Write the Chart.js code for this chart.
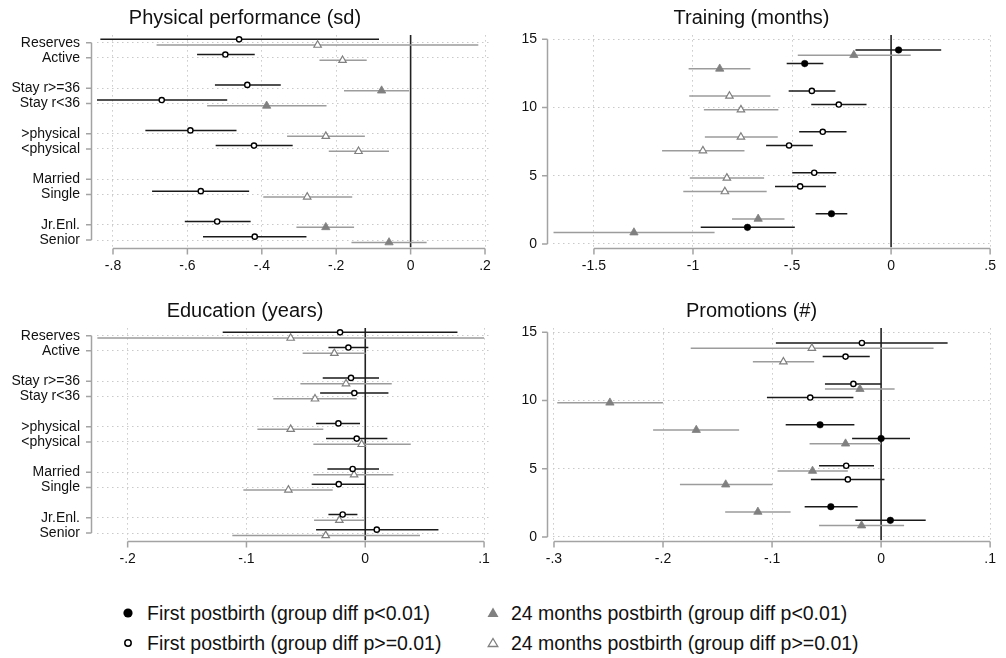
<!DOCTYPE html>
<html><head><meta charset="utf-8">
<script src="https://cdn.jsdelivr.net/npm/chart.js@4.4.1/dist/chart.umd.min.js"></script>
<style>
html,body{margin:0;padding:0;background:#fff;width:1006px;height:658px;overflow:hidden;font-family:"Liberation Sans",Arial,sans-serif;}
canvas{position:absolute;}
.lg{position:absolute;font-size:19.5px;line-height:22px;height:22px;color:#111;white-space:nowrap;}
.mk{position:absolute;}
</style></head><body>
<canvas id="c1" style="left:0;top:0;width:503px;height:285px" width="503" height="285"></canvas>
<canvas id="c2" style="left:503px;top:0;width:503px;height:285px" width="503" height="285"></canvas>
<canvas id="c3" style="left:0;top:293px;width:503px;height:285px" width="503" height="285"></canvas>
<canvas id="c4" style="left:503px;top:293px;width:503px;height:285px" width="503" height="285"></canvas>

<svg class="mk" style="left:122px;top:607px" width="12" height="12"><circle cx="6" cy="6" r="4.6" fill="#000"/></svg>
<div class="lg" style="left:147px;top:602px">First postbirth (group diff p&lt;0.01)</div>
<svg class="mk" style="left:122px;top:637px" width="12" height="12"><circle cx="6" cy="6" r="3.2" fill="#fff" stroke="#000" stroke-width="1.5"/></svg>
<div class="lg" style="left:147px;top:632px">First postbirth (group diff p&gt;=0.01)</div>
<svg class="mk" style="left:486px;top:606px" width="14" height="13"><polygon points="7,1.5 12.5,11 1.5,11" fill="#808080"/></svg>
<div class="lg" style="left:511px;top:602px">24 months postbirth (group diff p&lt;0.01)</div>
<svg class="mk" style="left:486px;top:636px" width="14" height="13"><polygon points="7,2.5 11.8,10.5 2.2,10.5" fill="#fff" stroke="#808080" stroke-width="1.3"/></svg>
<div class="lg" style="left:511px;top:632px">24 months postbirth (group diff p&gt;=0.01)</div>

<script>
// ---------- shared data ----------
const categories = ['Reserves','Active','Stay r>=36','Stay r<36','>physical','<physical','Married','Single','Jr.Enl.','Senior'];
const categoryPos = [14,13,11,10,8,7,5,4,2,1];
const numYTicks = [0,5,10,15];
const numYTickLabels = ['0','5','10','15'];

// ---------- Physical performance (sd) ----------
const physXTicks = [-0.8,-0.6,-0.4,-0.2,0,0.2];
const physXTickLabels = ['-.8','-.6','-.4','-.2','0','.2'];
const physFirstEst = [-0.461,-0.498,-0.439,-0.669,-0.592,-0.421,null,-0.564,-0.520,-0.419];
const physFirstLo  = [-0.834,-0.574,-0.526,-0.843,-0.713,-0.524,null,-0.695,-0.607,-0.558];
const physFirstHi  = [-0.085,-0.419,-0.349,-0.493,-0.468,-0.317,null,-0.434,-0.430,-0.280];
const physFirstSig = [false,false,false,false,false,false,false,false,false,false];
const physLateEst  = [-0.250,-0.183,-0.078,-0.387,-0.228,-0.140,null,-0.278,-0.228,-0.058];
const physLateLo   = [-0.683,-0.245,-0.179,-0.547,-0.332,-0.220,null,-0.396,-0.307,-0.159];
const physLateHi   = [0.182,-0.118,-0.004,-0.226,-0.123,-0.058,null,-0.157,-0.152,0.043];
const physLateSig  = [false,false,true,true,false,false,false,false,true,true];

// ---------- Training (months) ----------
const trainXTicks = [-1.5,-1,-0.5,0,0.5];
const trainXTickLabels = ['-1.5','-1','-.5','0','.5'];
const trainFirstEst = [0.038,-0.436,-0.400,-0.264,-0.345,-0.515,-0.388,-0.459,-0.301,-0.725];
const trainFirstLo  = [-0.180,-0.527,-0.517,-0.403,-0.464,-0.631,-0.499,-0.586,-0.381,-0.961];
const trainFirstHi  = [0.253,-0.342,-0.281,-0.124,-0.225,-0.395,-0.277,-0.329,-0.221,-0.486];
const trainFirstSig = [true,true,false,false,false,false,false,false,true,true];
const trainLateEst  = [-0.188,-0.865,-0.816,-0.758,-0.758,-0.950,-0.829,-0.839,-0.671,-1.298];
const trainLateLo   = [-0.471,-1.022,-1.019,-0.945,-0.940,-1.156,-1.016,-1.049,-0.803,-1.704];
const trainLateHi   = [0.099,-0.710,-0.609,-0.569,-0.572,-0.740,-0.641,-0.628,-0.538,-0.891];
const trainLateSig  = [true,true,false,false,false,false,false,false,true,true];

// ---------- Education (years) ----------
const eduXTicks = [-0.2,-0.1,0,0.1];
const eduXTickLabels = ['-.2','-.1','0','.1'];
const eduFirstEst = [-0.0212,-0.0142,-0.0120,-0.0092,-0.0226,-0.0072,-0.0106,-0.0223,-0.0190,0.0097];
const eduFirstLo  = [-0.120,-0.031,-0.0358,-0.038,-0.0414,-0.033,-0.0319,-0.0451,-0.031,-0.0414];
const eduFirstHi  = [0.0776,0.0026,0.0116,0.0195,-0.0044,0.0186,0.0116,0.0004,-0.0066,0.0616];
const eduFirstSig = [false,false,false,false,false,false,false,false,false,false];
const eduLateEst  = [-0.0628,-0.026,-0.0162,-0.0423,-0.0628,-0.0030,-0.0094,-0.0647,-0.0218,-0.0333];
const eduLateLo   = [-0.2255,-0.0527,-0.0546,-0.0774,-0.0908,-0.0437,-0.0437,-0.1026,-0.0431,-0.1119];
const eduLateHi   = [0.100,0.0004,0.0223,-0.0072,-0.0353,0.0383,0.0237,-0.0274,-0.001,0.0461];
const eduLateSig  = [false,false,false,false,false,false,false,false,false,false];

// ---------- Promotions (#) ----------
const promXTicks = [-0.3,-0.2,-0.1,0,0.1];
const promXTickLabels = ['-.3','-.2','-.1','0','.1'];
const promFirstEst = [-0.0176,-0.0326,-0.0254,-0.065,-0.056,0.0,-0.032,-0.0305,-0.0461,0.0085];
const promFirstLo  = [-0.0965,-0.0536,-0.0515,-0.1047,-0.0875,-0.0266,-0.0569,-0.0644,-0.0701,-0.0236];
const promFirstHi  = [0.061,-0.0104,0.0,-0.0254,-0.0245,0.0265,-0.0065,0.0031,-0.0215,0.0409];
const promFirstSig = [false,false,false,false,true,true,false,false,true,true];
const promLateEst  = [-0.0635,-0.0896,-0.0194,-0.2487,-0.1695,-0.0326,-0.0629,-0.1425,-0.113,-0.0179];
const promLateLo   = [-0.1746,-0.1176,-0.0515,-0.297,-0.2091,-0.0656,-0.095,-0.1845,-0.143,-0.0569];
const promLateHi   = [0.0481,-0.0614,0.0124,-0.2001,-0.1302,0.0,-0.0305,-0.0996,-0.083,0.0211];
const promLateSig  = [false,false,true,true,true,true,true,true,true,true];

// ---------- rendering ----------
const FONT = '"Liberation Sans", Arial, sans-serif';
Chart.defaults.font.family = FONT;
const FIRST_OFF = 0.22, LATE_OFF = -0.16;
const GRID = '#c9c9c9';

const axesPlugin = {
  id: 'stataAxes',
  afterDraw(chart) {
    const {ctx, chartArea: a, scales: {x, y}} = chart;
    const yt = y.ticks.map(t => y.getPixelForValue(t.value));
    const xt = x.ticks.map(t => x.getPixelForValue(t.value));
    ctx.save();
    ctx.strokeStyle = '#a3a3a3';
    ctx.lineWidth = 1.5;
    ctx.beginPath();
    const ax = a.left - 5.5;
    ctx.moveTo(ax, Math.min(...yt)); ctx.lineTo(ax, Math.max(...yt));
    yt.forEach(p => { ctx.moveTo(ax, p); ctx.lineTo(ax - 5.5, p); });
    const ay = a.bottom + 1;
    ctx.moveTo(Math.min(...xt), ay); ctx.lineTo(Math.max(...xt), ay);
    xt.forEach(p => { ctx.moveTo(p, ay); ctx.lineTo(p, ay + 6); });
    ctx.stroke();
    ctx.restore();
  }
};

function ciData(lo, hi, off) {
  const out = [];
  categoryPos.forEach((c, i) => {
    if (lo[i] === null) return;
    out.push({x: lo[i], y: c + off}, {x: hi[i], y: c + off}, {x: hi[i], y: null});
  });
  return out;
}
function ptData(est, off) {
  return categoryPos.map((c, i) => ({x: est[i], y: est[i] === null ? null : c + off}));
}

function makePanel(id, p) {
  const left = p.side === 'left';
  const datasets = [
    { // first postbirth markers
      data: ptData(p.fEst, FIRST_OFF), order: 1,
      pointStyle: 'circle',
      pointRadius: p.fSig.map(s => s ? 3.3 : 2.6),
      pointBorderWidth: p.fSig.map(s => s ? 0.5 : 1.4),
      pointBackgroundColor: p.fSig.map(s => s ? '#000' : '#fff'),
      pointBorderColor: '#000'
    },
    { // 24 months markers
      data: ptData(p.lEst, LATE_OFF), order: 2,
      pointStyle: 'triangle',
      pointRadius: p.lSig.map(s => s ? 4.8 : 4.3),
      pointBorderWidth: p.lSig.map(s => s ? 0.8 : 1.2),
      pointBackgroundColor: p.lSig.map(s => s ? '#808080' : '#fff'),
      pointBorderColor: '#808080'
    },
    { // first postbirth CI
      data: ciData(p.fLo, p.fHi, FIRST_OFF), order: 3, showLine: true, spanGaps: false,
      borderColor: '#1a1a1a', borderWidth: 1.5, pointRadius: 0
    },
    { // 24 months CI
      data: ciData(p.lLo, p.lHi, LATE_OFF), order: 4, showLine: true, spanGaps: false,
      borderColor: '#9c9c9c', borderWidth: 1.5, pointRadius: 0
    },
    { // zero reference line
      data: [{x: 0, y: p.yMin}, {x: 0, y: p.yMax}], order: 5, showLine: true,
      borderColor: '#222', borderWidth: 1.6, pointRadius: 0
    }
  ];
  return new Chart(document.getElementById(id), {
    type: 'scatter',
    data: {datasets},
    plugins: [axesPlugin],
    options: {
      responsive: false, animation: false, events: [],
      layout: {padding: {left: 0, right: left ? 13 : 6, top: 0, bottom: 0}, autoPadding: false},
      plugins: {
        legend: {display: false}, tooltip: {enabled: false},
        title: {display: true, text: p.title, color: '#111',
                font: {family: FONT, size: 20, weight: 'normal'},
                padding: {top: 6.3, bottom: 4.8}}
      },
      scales: {
        x: {
          type: 'linear', min: p.xMin, max: p.xMax, bounds: 'data',
          afterBuildTicks: s => { s.ticks = p.xTicks.map(v => ({value: v})); },
          afterFit: s => { s.height = 37.4; },
          ticks: {autoSkip: false, maxRotation: 0, padding: 10, color: '#111',
                  font: {family: FONT, size: 14}, callback: (v, i) => p.xLabels[i]},
          grid: {drawTicks: false, lineWidth: 1,
                 color: c => (c.tick && c.tick.value === 0) ? 'rgba(0,0,0,0)' : GRID},
          border: {display: false, dash: [1.5, 3.5]}
        },
        y: {
          type: 'linear', min: p.yMin, max: p.yMax, bounds: 'data',
          afterBuildTicks: s => { s.ticks = p.yTicks.map(v => ({value: v})); },
          afterFit: s => { s.width = left ? 97 : 50; },
          ticks: {autoSkip: false, padding: left ? 17 : 16, color: '#111',
                  font: {family: FONT, size: 14}, callback: (v, i) => p.yLabels[i]},
          grid: {drawTicks: false, lineWidth: 1, color: GRID},
          border: {display: false, dash: [1.5, 3.5]}
        }
      }
    }
  });
}

const LEFT_Y = [0.5, 14.5];
const RIGHT_Y = [-0.264, 15.308];

makePanel('c1', {side: 'left', title: 'Physical performance (sd)',
  xMin: -0.843, xMax: 0.2134, xTicks: physXTicks, xLabels: physXTickLabels,
  yMin: LEFT_Y[0], yMax: LEFT_Y[1], yTicks: categoryPos, yLabels: categories,
  fEst: physFirstEst, fLo: physFirstLo, fHi: physFirstHi, fSig: physFirstSig,
  lEst: physLateEst, lLo: physLateLo, lHi: physLateHi, lSig: physLateSig});

makePanel('c2', {side: 'right', title: 'Training (months)',
  xMin: -1.7066, xMax: 0.508, xTicks: trainXTicks, xLabels: trainXTickLabels,
  yMin: RIGHT_Y[0], yMax: RIGHT_Y[1], yTicks: numYTicks, yLabels: numYTickLabels,
  fEst: trainFirstEst, fLo: trainFirstLo, fHi: trainFirstHi, fSig: trainFirstSig,
  lEst: trainLateEst, lLo: trainLateLo, lHi: trainLateHi, lSig: trainLateSig});

makePanel('c3', {side: 'left', title: 'Education (years)',
  xMin: -0.2258, xMax: 0.105, xTicks: eduXTicks, xLabels: eduXTickLabels,
  yMin: LEFT_Y[0], yMax: LEFT_Y[1], yTicks: categoryPos, yLabels: categories,
  fEst: eduFirstEst, fLo: eduFirstLo, fHi: eduFirstHi, fSig: eduFirstSig,
  lEst: eduLateEst, lLo: eduLateLo, lHi: eduLateHi, lSig: eduLateSig});

makePanel('c4', {side: 'right', title: 'Promotions (#)',
  xMin: -0.3009, xMax: 0.1015, xTicks: promXTicks, xLabels: promXTickLabels,
  yMin: RIGHT_Y[0], yMax: RIGHT_Y[1], yTicks: numYTicks, yLabels: numYTickLabels,
  fEst: promFirstEst, fLo: promFirstLo, fHi: promFirstHi, fSig: promFirstSig,
  lEst: promLateEst, lLo: promLateLo, lHi: promLateHi, lSig: promLateSig});
</script>
</body></html>
